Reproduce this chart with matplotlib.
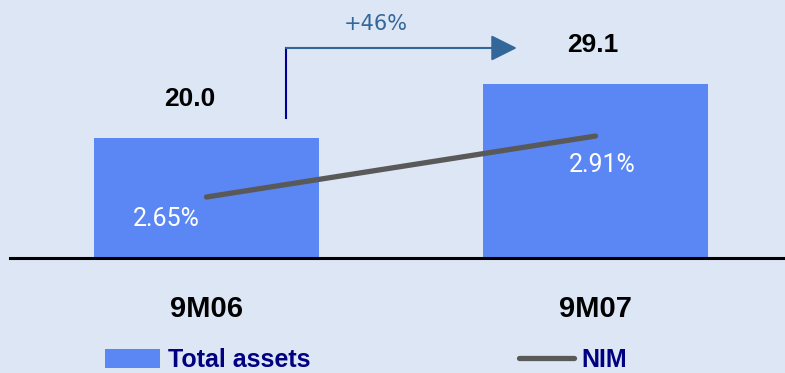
import numpy as np
import matplotlib
matplotlib.use("Agg")
import matplotlib.pyplot as plt

plt.rcParams["font.family"] = ["Liberation Sans", "DejaVu Sans"]

# Data
periods = ["9M06", "9M07"]
total_assets = [20.0, 29.1]
nim = [2.65, 2.91]  # net interest margin, %

bg_color = "#dce6f4"
bar_color = "#5a87f3"
line_color = "#595959"
navy = "#000080"
arrow_blue = "#336699"

fig = plt.figure(figsize=(7.85, 3.73), dpi=100, facecolor=bg_color)
ax = fig.add_axes([10 / 785, 115 / 373, 775 / 785, 258 / 373])
ax.set_facecolor("none")

x = np.arange(len(periods))
bars = ax.bar(x, total_assets, width=0.576, color=bar_color, label="Total assets")
ax.set_xlim(-0.505, 1.487)
ax.set_ylim(0, 43.1)

# bar value labels
for xi, v, dx in zip(x, total_assets, [-12, -2]):
    ax.annotate(f"{v:.1f}", (xi, v), xytext=(dx, 28), textcoords="offset points",
                ha="center", va="center", fontsize=19, fontweight="bold", color="black")

# axis styling: only the baseline
for side in ["left", "right", "top"]:
    ax.spines[side].set_visible(False)
ax.spines["bottom"].set_linewidth(2.2)
ax.spines["bottom"].set_color("black")
ax.set_yticks([])
ax.set_xticks(x, periods)
ax.tick_params(axis="x", length=0, pad=26.5, labelsize=21)
for lbl in ax.get_xticklabels():
    lbl.set_fontweight("bold")

# NIM line on a secondary scale
ax2 = ax.twinx()
nim_line, = ax2.plot(x, nim, color=line_color, lw=3.8, solid_capstyle="round", label="NIM")
ax2.set_ylim(2.39, 3.49)
ax2.set_axis_off()
for xi, v, (dx, dy) in zip(x, nim, [(-29, -16), (5, -21)]):
    ax2.annotate(f"{v:.2f}%", (xi, v), xytext=(dx, dy), textcoords="offset points",
                 ha="center", va="center", fontsize=18, color="white",
                 family=["Roboto", "DejaVu Sans"])

# growth arrow
growth = (total_assets[1] / total_assets[0] - 1) * 100
ax.plot([0.356, 0.356], [0.543, 0.814], transform=ax.transAxes, color="#000099",
        lw=1.5, clip_on=False)
ax.annotate("", xy=(0.654, 0.814), xytext=(0.356, 0.814), xycoords="axes fraction",
            arrowprops=dict(arrowstyle="-|>", mutation_scale=40, lw=1.5,
                            color=arrow_blue, shrinkA=0, shrinkB=0))
ax.text(0.472, 0.907, f"+{growth:.0f}%", transform=ax.transAxes, ha="center",
        va="center", fontsize=15, color=arrow_blue, family="DejaVu Sans")

# legend along the bottom edge
fig.legend(handles=[bars, nim_line], loc="lower left", bbox_to_anchor=(105 / 785, 0.002),
           ncol=2, frameon=False, borderpad=0, borderaxespad=0,
           handlelength=2.2, handleheight=0.75, handletextpad=0.3, columnspacing=8.35,
           prop={"size": 18, "weight": "bold"}, labelcolor=navy)

fig.savefig("out.png", dpi=100, facecolor=bg_color)
